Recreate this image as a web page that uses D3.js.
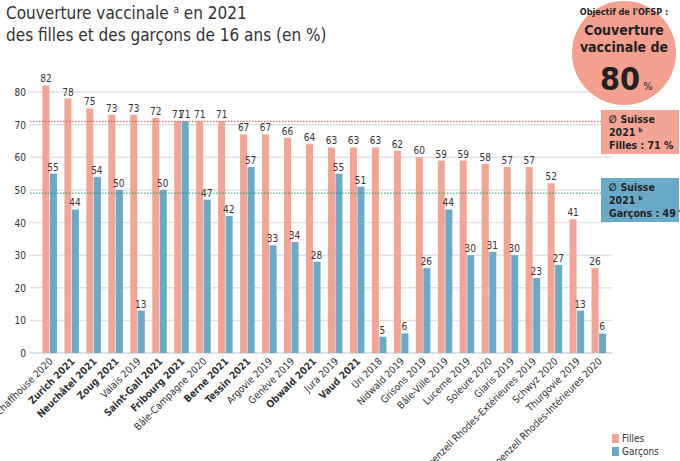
<!DOCTYPE html>
<html><head><meta charset="utf-8">
<script src="https://cdn.jsdelivr.net/npm/d3@7"></script>
<style>body{margin:0;background:#fff;font-family:"Open Sans",sans-serif}</style>
</head><body>
<svg id="chart" width="680" height="461"></svg>
<script>
const cantons = ["Schaffhouse 2020","Zurich 2021","Neuchâtel 2021","Zoug 2021","Valais 2019","Saint-Gall 2021","Fribourg 2021","Bâle-Campagne 2020","Berne 2021","Tessin 2021","Argovie 2019","Genève 2019","Obwald 2021","Jura 2019","Vaud 2021","Uri 2018","Nidwald 2019","Grisons 2019","Bâle-Ville 2019","Lucerne 2019","Soleure 2020","Glaris 2019","Appenzell Rhodes-Extérieures 2019","Schwyz 2020","Thurgovie 2019","Appenzell Rhodes-Intérieures 2020"];
const filles = [82,78,75,73,73,72,71,71,71,67,67,66,64,63,63,63,62,60,59,59,58,57,57,52,41,26];
const garcons = [55,44,54,50,13,50,71,47,42,57,33,34,28,55,51,5,6,26,44,30,31,30,23,27,13,6];
const yTicks = [0,10,20,30,40,50,60,70,80];
const moyFilles = 71, moyGarcons = 49;

const pink = "#f2a595", blue = "#6aaac8";
const narrow = '"Liberation Sans Narrow","DejaVu Sans Condensed",sans-serif';
const svg = d3.select("#chart");
const x = d3.scaleBand().domain(cantons).range([38, 610]).paddingInner(0.36).paddingOuter(0.2);
const y = d3.scaleLinear().domain([0, 80]).range([353, 92]);
const bw = x.bandwidth() / 2;

svg.append("g").selectAll("line").data(yTicks).join("line")
  .attr("x1", 30).attr("x2", 612).attr("y1", d => y(d)).attr("y2", d => y(d))
  .attr("stroke", d => d === 0 ? "#c8dce6" : "#e3e3e3").attr("stroke-width", 1.5);
svg.append("g").selectAll("text").data(yTicks).join("text")
  .attr("x", 26).attr("y", d => y(d) + 4).attr("text-anchor", "end")
  .attr("font-size", 10).attr("font-family", narrow).attr("fill", "#333").text(d => d);

const g = svg.append("g").selectAll("g").data(cantons).join("g")
  .attr("transform", d => `translate(${x(d)},0)`);
g.append("rect").attr("width", bw).attr("y", (d, i) => y(filles[i]))
  .attr("height", (d, i) => y(0) - y(filles[i])).attr("fill", pink);
g.append("rect").attr("x", bw + 0.5).attr("width", bw).attr("y", (d, i) => y(garcons[i]))
  .attr("height", (d, i) => y(0) - y(garcons[i])).attr("fill", blue);
g.append("text").attr("x", bw / 2).attr("y", (d, i) => y(filles[i]) - 3)
  .attr("text-anchor", "middle").attr("font-size", 10).attr("font-family", narrow).attr("fill", "#333").text((d, i) => filles[i]);
g.append("text").attr("x", bw * 1.5).attr("y", (d, i) => y(garcons[i]) - 3)
  .attr("text-anchor", "middle").attr("font-size", 10).attr("font-family", narrow).attr("fill", "#333").text((d, i) => garcons[i]);
g.append("text").attr("transform", `translate(${bw + 4},362) rotate(-45)`)
  .attr("text-anchor", "end").attr("font-size", 10).attr("font-family", narrow).attr("fill", "#333")
  .attr("font-weight", d => d.endsWith("2021") ? "bold" : "normal").text(d => d);

svg.append("line").attr("x1", 30).attr("x2", 612).attr("y1", y(moyFilles)).attr("y2", y(moyFilles))
  .attr("stroke", "#d9534f").attr("stroke-dasharray", "1.5,1.5");
svg.append("line").attr("x1", 30).attr("x2", 612).attr("y1", y(moyGarcons)).attr("y2", y(moyGarcons))
  .attr("stroke", "#2f9a6a").attr("stroke-dasharray", "1.5,1.5");

// titre
svg.append("text").attr("x", 6).attr("y", 19).attr("font-size", 17).attr("font-family", narrow).attr("fill", "#333")
  .html('Couverture vaccinale <tspan font-size="10" dy="-6">a</tspan><tspan dy="6"> en 2021</tspan>');
svg.append("text").attr("x", 6).attr("y", 41).attr("font-size", 17).attr("font-family", narrow).attr("fill", "#333")
  .text("des filles et des garçons de 16 ans (en %)");

// objectif
svg.append("circle").attr("cx", 624).attr("cy", 53).attr("r", 52).attr("fill", "#f3a18e");
const obj = svg.append("g").attr("text-anchor", "middle").attr("fill", "#222").attr("font-weight", "bold").attr("font-family", narrow);
obj.append("text").attr("x", 624).attr("y", 15).attr("font-size", 9).text("Objectif de l'OFSP :");
obj.append("text").attr("x", 624).attr("y", 35).attr("font-size", 14).text("Couverture");
obj.append("text").attr("x", 624).attr("y", 52).attr("font-size", 14).text("vaccinale de");
obj.append("text").attr("x", 620).attr("y", 90).attr("font-size", 32).text("80");
obj.append("text").attr("x", 648).attr("y", 90).attr("font-size", 11).attr("font-weight", "normal").text("%");

function box(yy, fill, lines) {
  svg.append("rect").attr("x", 601).attr("y", yy).attr("width", 78).attr("height", 44).attr("fill", fill);
  lines.forEach((l, i) => svg.append("text").attr("x", 609).attr("y", yy + 13 + i * 13)
    .attr("font-size", 10.5).attr("font-family", narrow).attr("font-weight", "bold").attr("fill", "#222").html(l));
}
box(110, pink, ["∅ Suisse", '2021 <tspan font-size="6" dy="-4">b</tspan>', "Filles : 71 %"]);
box(178, blue, ["∅ Suisse", '2021 <tspan font-size="6" dy="-4">b</tspan>', "Garçons : 49 %"]);

// légende
[["Filles", pink], ["Garçons", blue]].forEach(([t, c], i) => {
  svg.append("rect").attr("x", 612).attr("y", 434 + i * 13).attr("width", 7).attr("height", 9).attr("fill", c);
  svg.append("text").attr("x", 622).attr("y", 442 + i * 13).attr("font-size", 10).attr("font-family", narrow).attr("fill", "#333").text(t);
});
</script>
</body></html>
